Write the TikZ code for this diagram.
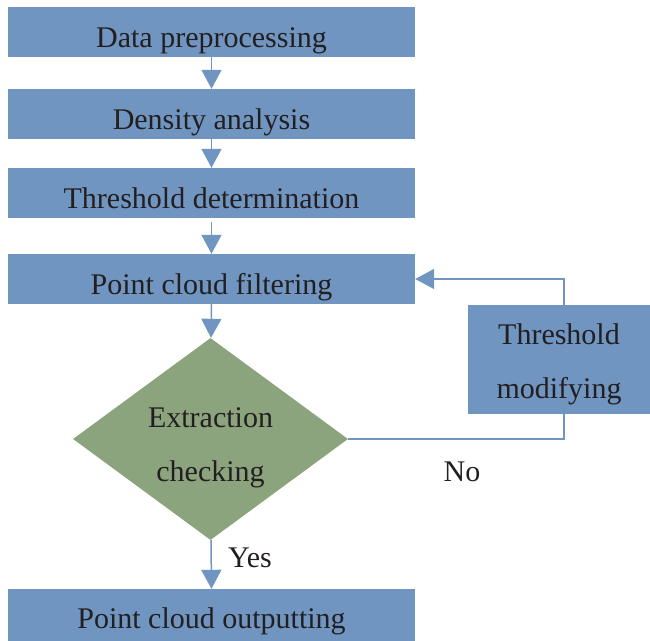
\documentclass[tikz,border=0pt]{standalone}
\usepackage{fontspec}
\setmainfont{Liberation Serif}
\usetikzlibrary{shapes.geometric,arrows.meta}
\definecolor{boxblue}{RGB}{111,149,192}
\definecolor{dgreen}{RGB}{140,164,126}
\definecolor{txt}{RGB}{35,31,32}
\tikzset{
  procbox/.style={rectangle,fill=boxblue,draw=none,minimum width=407pt,minimum height=50pt,inner sep=0pt,font=\fontsize{30}{53}\selectfont,text=txt,text height=30pt,text depth=0pt},
  decide/.style={diamond,fill=dgreen,draw=none,minimum width=275pt,minimum height=202pt,inner sep=0pt},
  conn/.style={draw=boxblue,line width=1.5pt},
  arr/.style={conn,-{Triangle[width=20pt,length=19pt]}},
  lbl/.style={font=\fontsize{30}{36}\selectfont,text=txt,inner sep=0pt},
  mlbl/.style={font=\fontsize{30}{54}\selectfont,text=txt,inner sep=0pt,align=center}
}
\begin{document}
\begin{tikzpicture}[x=1pt,y=-1pt]
\useasboundingbox (0,0) rectangle (650,640);
\node[procbox] (pre) at (211.5,32) {Data preprocessing};
\node[procbox] (den) at (211.5,114) {Density analysis};
\node[procbox] (thr) at (211.5,193) {Threshold determination};
\node[procbox] (fil) at (211.5,279) {Point cloud filtering};
\node[decide] (chk) at (210.5,439) {};
\node[mlbl] (chkt) at ([yshift=-9pt]chk.center) {Extraction\\checking};
\node[procbox,minimum height=62pt,text depth=14pt] (out) at (211.5,620) {Point cloud outputting};
\node[rectangle,fill=boxblue,minimum width=182pt,minimum height=109pt,inner sep=0pt] (mod) at (559,359.5) {};
\node[mlbl] (modt) at ([yshift=-5pt]mod.center) {Threshold\\modifying};
\coordinate (mtop) at ([xshift=5pt]mod.north);
\coordinate (mbot) at ([xshift=5pt]mod.south);
\draw[arr] (pre.south) -- (den.north);
\draw[arr] (den.south) -- (thr.north);
\draw[arr] ([yshift=-4pt]thr.south) -- (fil.north);
\draw[arr] (fil.south) -- ([xshift=0.5pt]chk.north);
\draw[arr] ([xshift=0.5pt]chk.south) -- (out.north);
\draw[conn] (chk.east) -| (mbot);
\draw[arr] (mtop) |- (fil.east);
\node[lbl] (no) at (462,472) {No};
\node[lbl] (yes) at (250,558) {Yes};
\end{tikzpicture}
\end{document}
